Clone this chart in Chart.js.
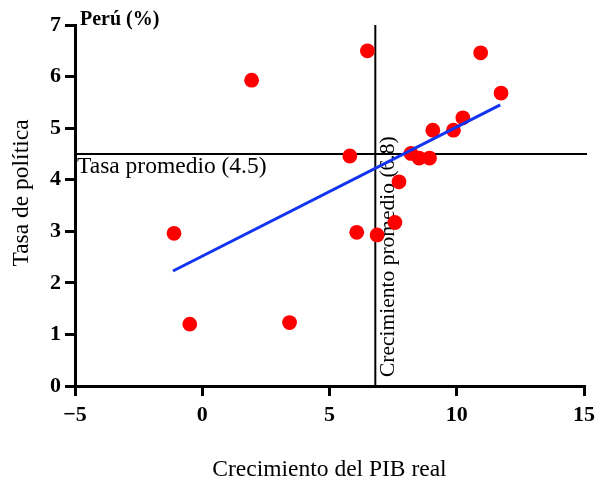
<!DOCTYPE html>
<html>
<head>
<meta charset="utf-8">
<script src="https://cdn.jsdelivr.net/npm/chart.js@4/dist/chart.umd.min.js"></script>
<style>
  html, body { margin: 0; padding: 0; background: #fff; }
  #wrap { width: 595px; height: 479px; }
</style>
</head>
<body>
<div id="wrap"><canvas id="c" width="595" height="479"></canvas></div>
<script>
// Real GDP growth (%) and policy rate (%) per observation
const growth     = [-1.11, -0.49, 1.94, 3.43, 5.80, 6.07, 6.49, 6.87, 7.57, 7.73, 8.20, 8.52, 8.93, 9.06, 9.87, 10.24, 10.94, 11.74];
const policyRate = [ 2.96,  1.20, 5.93, 1.23, 4.46, 2.98, 6.50, 2.93, 3.17, 3.96, 4.51, 4.42, 4.42, 4.96, 4.96,  5.20,  6.46,  5.68];

// Fitted trend line end points
const trendX = [-1.15, 11.71];
const trendY = [ 2.23,  5.45];

// Averages shown as reference lines
const avgRate = 4.5;
const avgGrowth = 6.8;

// Axis ticks
const xTickValues = [-5, 0, 5, 10, 15];
const xTickLabels = ['\u22125', '0', '5', '10', '15'];
const yTickValues = [0, 1, 2, 3, 4, 5, 6, 7];
const yTickLabels = ['0', '1', '2', '3', '4', '5', '6', '7'];

const SERIF = '"Liberation Serif", "Times New Roman", serif';

const points = growth.map((g, i) => ({ x: g, y: policyRate[i] }));
const trend = trendX.map((x, i) => ({ x: x, y: trendY[i] }));

// Reference lines for the averages plus their labels
const averageLines = {
  id: 'averageLines',
  beforeDatasetsDraw(chart) {
    const { ctx, chartArea: a, scales: { x, y } } = chart;
    const yp = y.getPixelForValue(avgRate);
    const xp = x.getPixelForValue(avgGrowth);
    ctx.save();
    ctx.strokeStyle = '#000';
    ctx.lineWidth = 2;
    ctx.beginPath();
    ctx.moveTo(a.left, yp); ctx.lineTo(a.right + 3, yp);
    ctx.moveTo(xp, a.bottom); ctx.lineTo(xp, a.top);
    ctx.stroke();

    ctx.fillStyle = '#000';
    ctx.textAlign = 'left';
    ctx.textBaseline = 'alphabetic';
    ctx.font = '23.5px ' + SERIF;
    ctx.fillText('Tasa promedio (' + avgRate.toFixed(1) + ')', a.left + 2, yp + 19);

    ctx.font = '21.5px ' + SERIF;
    ctx.translate(xp + 19, a.bottom - 9);
    ctx.rotate(-Math.PI / 2);
    ctx.fillText('Crecimiento promedio (' + avgGrowth.toFixed(1) + ')', 0, 0);
    ctx.restore();
  }
};

// Chart heading and axis titles
const titles = {
  id: 'titles',
  afterDraw(chart) {
    const { ctx, chartArea: a } = chart;
    ctx.save();
    ctx.fillStyle = '#000';
    ctx.textBaseline = 'alphabetic';

    ctx.font = 'bold 20px ' + SERIF;
    ctx.textAlign = 'left';
    ctx.fillText('Perú (%)', a.left + 5, a.top);

    ctx.font = '23.5px ' + SERIF;
    ctx.textAlign = 'center';
    ctx.fillText('Crecimiento del PIB real', (a.left + a.right) / 2, 476);

    ctx.translate(28, 193);
    ctx.rotate(-Math.PI / 2);
    ctx.fillText('Tasa de política', 0, 0);
    ctx.restore();
  }
};

const axisCommon = {
  grid: { display: true, drawOnChartArea: false, drawTicks: true, tickLength: 10, color: '#000', lineWidth: 3 },
  border: { display: true, color: '#000', width: 3 },
};

new Chart(document.getElementById('c'), {
  type: 'scatter',
  data: {
    datasets: [
      {
        type: 'line',
        data: trend,
        borderColor: '#1234f2',
        borderWidth: 3,
        pointRadius: 0,
        fill: false,
        order: 0
      },
      {
        data: points,
        backgroundColor: '#ff0000',
        borderWidth: 0,
        pointRadius: 7.4,
        pointHoverRadius: 7.4,
        order: 1
      }
    ]
  },
  options: {
    responsive: false,
    devicePixelRatio: 1,
    animation: false,
    events: [],
    layout: { padding: { top: 25, right: 11, left: 0, bottom: 0 } },
    plugins: { legend: { display: false }, tooltip: { enabled: false }, title: { display: false } },
    scales: {
      x: {
        ...axisCommon,
        type: 'linear',
        min: -5, max: 15,
        afterBuildTicks(s) { s.ticks = xTickValues.map(v => ({ value: v })); },
        afterFit(s) { s.height = 93; s.paddingLeft = 0; s.paddingRight = 0; },
        ticks: {
          color: '#000',
          padding: 6,
          font: { family: SERIF, size: 22, weight: 'bold' },
          callback: (v) => xTickLabels[xTickValues.indexOf(v)]
        }
      },
      y: {
        ...axisCommon,
        type: 'linear',
        min: 0, max: 7,
        afterBuildTicks(s) { s.ticks = yTickValues.map(v => ({ value: v })); },
        afterFit(s) { s.width = 75; s.paddingTop = 0; s.paddingBottom = 0; },
        ticks: {
          color: '#000',
          padding: 4,
          font: { family: SERIF, size: 22, weight: 'bold' },
          callback: (v) => yTickLabels[yTickValues.indexOf(v)]
        }
      }
    }
  },
  plugins: [averageLines, titles]
});
</script>
</body>
</html>
